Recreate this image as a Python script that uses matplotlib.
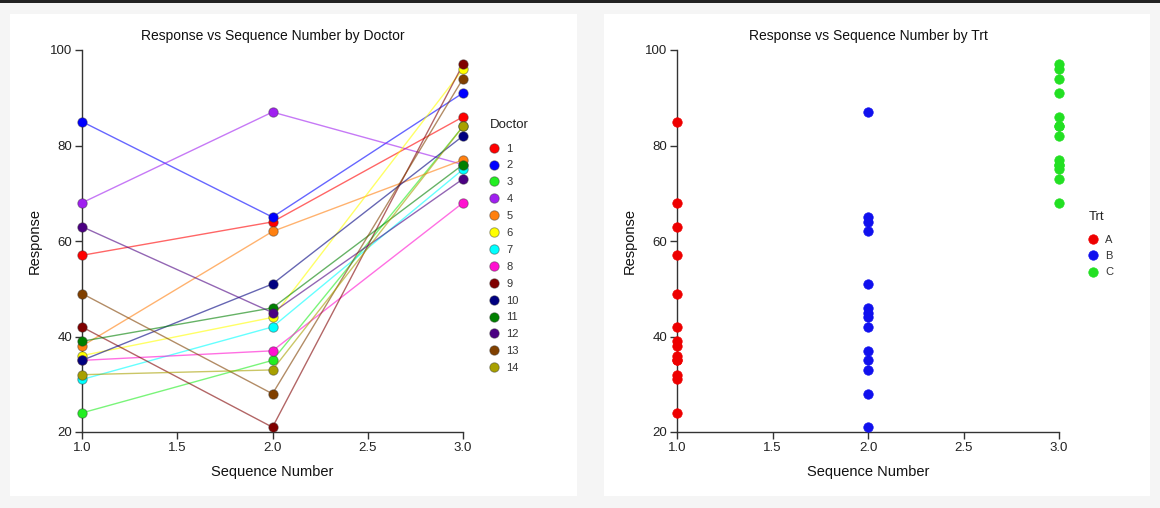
import matplotlib
matplotlib.use("Agg")
import matplotlib.pyplot as plt
from matplotlib.lines import Line2D
import matplotlib.patches as mpatches

plt.rcParams['font.family'] = ['Liberation Sans', 'DejaVu Sans']

# ---- data ----
sequence = [1, 2, 3]
doctors = ['1', '2', '3', '4', '5', '6', '7', '8', '9', '10', '11', '12', '13', '14']
doctor_colors = ['#FF0000', '#0000FF', '#22EE22', '#A020F0', '#FF8010', '#FFFF00', '#00FFFF',
                 '#FF10D0', '#800000', '#000080', '#008000', '#4B0082', '#804000', '#A8A000']
resp_seq1 = [57, 85, 24, 68, 38, 36, 31, 35, 42, 35, 39, 63, 49, 32]
resp_seq2 = [64, 65, 35, 87, 62, 44, 42, 37, 21, 51, 46, 45, 28, 33]
resp_seq3 = [86, 91, 84, 76, 77, 96, 75, 68, 97, 82, 76, 73, 94, 84]
treatments = ['A', 'B', 'C']
trt_colors = ['#EE0000', '#1010EE', '#22E022']

W, H = 1160, 508
fig = plt.figure(figsize=(W / 100, H / 100), dpi=100)
fig.patch.set_facecolor('#F5F5F5')

# panels and top line
fig.add_artist(mpatches.Rectangle((10 / W, 1 - 496 / H), 567 / W, 482 / H, transform=fig.transFigure,
                                  facecolor='white', edgecolor='none', zorder=0))
fig.add_artist(mpatches.Rectangle((604 / W, 1 - 496 / H), 546 / W, 482 / H, transform=fig.transFigure,
                                  facecolor='white', edgecolor='none', zorder=0))
fig.add_artist(mpatches.Rectangle((0, 1 - 2.5 / H), 1, 2.5 / H, transform=fig.transFigure,
                                  facecolor='#222222', edgecolor='none', zorder=0))


def axes_at(x0, x1, y0, y1):
    return fig.add_axes([x0 / W, 1 - y1 / H, (x1 - x0) / W, (y1 - y0) / H])


def style(ax, title):
    ax.set_facecolor('none')
    ax.set_xlim(1, 3)
    ax.set_ylim(20, 100)
    ax.set_xticks([1.0, 1.5, 2.0, 2.5, 3.0])
    ax.set_xticklabels(['1.0', '1.5', '2.0', '2.5', '3.0'])
    ax.set_yticks([20, 40, 60, 80, 100])
    for s in ['top', 'right']:
        ax.spines[s].set_visible(False)
    for s in ['left', 'bottom']:
        ax.spines[s].set_color('#333333')
        ax.spines[s].set_linewidth(1.0)
    ax.tick_params(direction='out', length=5, width=1, colors='#333333', labelsize=9.5,
                   labelcolor='#222222', pad=2)
    ax.set_xlabel('Sequence Number', fontsize=10.5, color='#111111', labelpad=8)
    ax.set_ylabel('Response', fontsize=10.5, color='#111111', labelpad=6)
    ax.set_title(title, fontsize=10, color='#111111', pad=7)


def style_legend(leg, sep):
    leg._legend_box.align = 'left'
    leg._legend_box.sep = sep
    for t in leg.get_texts():
        t.set_color('#333333')
    leg.get_title().set_color('#222222')


# ---- left chart ----
ax1 = axes_at(82, 463, 50, 432)
style(ax1, 'Response vs Sequence Number by Doctor')
for i, d in enumerate(doctors):
    vals = [resp_seq1[i], resp_seq2[i], resp_seq3[i]]
    ax1.plot(sequence, vals, color=doctor_colors[i], lw=1.0, alpha=0.6, zorder=2, clip_on=False)
for i, d in enumerate(doctors):
    vals = [resp_seq1[i], resp_seq2[i], resp_seq3[i]]
    ax1.plot(sequence, vals, ls='none', marker='o', ms=6.8, mfc=doctor_colors[i],
             mec=(0.2, 0.2, 0.2, 0.45), mew=0.7, zorder=3, clip_on=False)

handles1 = [Line2D([], [], ls='none', marker='o', ms=6.8, mfc=c, mec=(0.2, 0.2, 0.2, 0.45), mew=0.7)
            for c in doctor_colors]
leg1 = ax1.legend(handles1, doctors, title='Doctor', loc='upper left', bbox_to_anchor=(1.059, 0.831),
                  frameon=False, fontsize=8, title_fontsize=9.5, handlelength=0.8, handletextpad=0.7,
                  labelspacing=0.62, borderaxespad=0)
style_legend(leg1, 9)

# ---- right chart ----
ax2 = axes_at(677, 1059, 50, 432)
style(ax2, 'Response vs Sequence Number by Trt')
trt_values = [resp_seq1, resp_seq2, resp_seq3]
for k, t in enumerate(treatments):
    ax2.plot([sequence[k]] * len(trt_values[k]), trt_values[k], ls='none', marker='o', ms=6.8,
             mfc=trt_colors[k], mec=trt_colors[k], mew=0.5, zorder=3, clip_on=False)
handles2 = [Line2D([], [], ls='none', marker='o', ms=6.8, mfc=c, mec=c, mew=0.5) for c in trt_colors]
leg2 = ax2.legend(handles2, treatments, title='Trt', loc='upper left', bbox_to_anchor=(1.065, 0.591),
                  frameon=False, fontsize=8, title_fontsize=9.5, handlelength=0.8, handletextpad=0.7,
                  labelspacing=0.55, borderaxespad=0)
style_legend(leg2, 9)

fig.savefig('out.png', dpi=100, facecolor=fig.get_facecolor())
